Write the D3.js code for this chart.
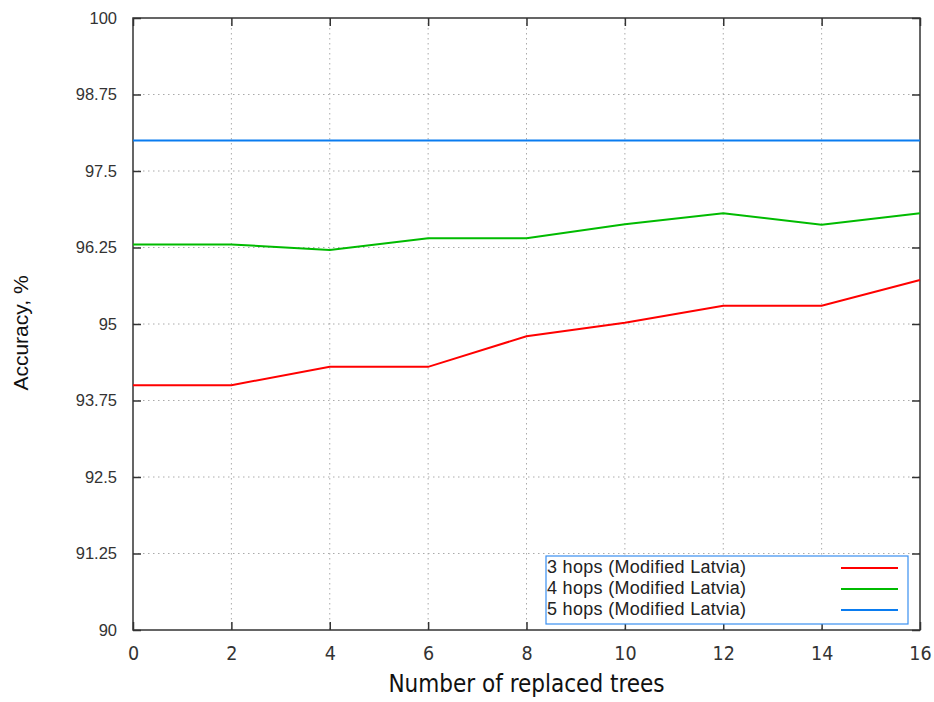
<!DOCTYPE html>
<html>
<head>
<meta charset="utf-8">
<script src="https://cdnjs.cloudflare.com/ajax/libs/d3/7.8.5/d3.min.js"></script>
<style>
  body { margin: 0; background: #fff; }
  svg { display: block; }
  .tick text { fill: #333; }
</style>
</head>
<body>
<div id="chart"></div>
<script>
// data
const replaced = [0, 2, 4, 6, 8, 10, 12, 14, 16];
const hops3 = [94.0, 94.0, 94.3, 94.3, 94.8, 95.02, 95.3, 95.3, 95.72];
const hops4 = [96.3, 96.3, 96.21, 96.4, 96.4, 96.63, 96.81, 96.62, 96.81];
const hops5 = [98.0, 98.0, 98.0, 98.0, 98.0, 98.0, 98.0, 98.0, 98.0];
const seriesNames = ["3 hops (Modified Latvia)", "4 hops (Modified Latvia)", "5 hops (Modified Latvia)"];
const seriesColors = ["#ff0000", "#00bb00", "#0a7cf0"];
const yTicks = [90, 91.25, 92.5, 93.75, 95, 96.25, 97.5, 98.75, 100];
const xTicks = [0, 2, 4, 6, 8, 10, 12, 14, 16];

const W = 934, H = 702;
const m = { left: 133, right: 14, top: 18, bottom: 72 };
const iw = W - m.left - m.right, ih = H - m.top - m.bottom;

const svg = d3.select("#chart").append("svg").attr("width", W).attr("height", H);
const g = svg.append("g").attr("transform", `translate(${m.left},${m.top})`);

const x = d3.scaleLinear().domain([0, 16]).range([0, iw]);
const y = d3.scaleLinear().domain([90, 100]).range([ih, 0]);

// grid
g.append("g").selectAll("line").data(xTicks.slice(1, -1)).join("line")
  .attr("x1", d => x(d)).attr("x2", d => x(d)).attr("y1", 0).attr("y2", ih)
  .attr("stroke", "#aaa").attr("stroke-dasharray", "1.5,3.5");
g.append("g").selectAll("line").data(yTicks.slice(1, -1)).join("line")
  .attr("y1", d => y(d)).attr("y2", d => y(d)).attr("x1", 0).attr("x2", iw)
  .attr("stroke", "#aaa").attr("stroke-dasharray", "1.5,3.5");

// axes, ticks pointing inward like gnuplot
const fmtY = d => String(d);
const axL = g.append("g").call(d3.axisLeft(y).tickValues(yTicks).tickFormat(fmtY).tickSize(-8).tickPadding(16));
const axR = g.append("g").attr("transform", `translate(${iw},0)`)
  .call(d3.axisRight(y).tickValues(yTicks).tickFormat("").tickSize(-8));
const axB = g.append("g").attr("transform", `translate(0,${ih})`)
  .call(d3.axisBottom(x).tickValues(xTicks).tickFormat(d3.format("d")).tickSize(-8).tickPadding(14));
const axT = g.append("g").call(d3.axisTop(x).tickValues(xTicks).tickFormat("").tickSize(-8));
[axL, axR, axB, axT].forEach(a => {
  a.select(".domain").remove();
  a.selectAll(".tick line").attr("stroke", "#333").attr("stroke-width", 1.5);
});
axL.selectAll("text").attr("font-family", "Liberation Sans, Arial, sans-serif").attr("font-size", 16.5);
axB.selectAll("text").attr("font-family", "Liberation Sans Narrow, DejaVu Sans Condensed, sans-serif")
  .attr("font-size", 19.5).attr("dy", "0.8em");

g.append("rect").attr("width", iw).attr("height", ih)
  .attr("fill", "none").attr("stroke", "#333").attr("stroke-width", 1.5);

// lines
const line = d3.line().x((d, i) => x(replaced[i])).y(d => y(d));
[hops3, hops4, hops5].forEach((s, k) => {
  g.append("path").datum(s).attr("d", line)
    .attr("fill", "none").attr("stroke", seriesColors[k]).attr("stroke-width", 2);
});

// legend
const lg = svg.append("g").attr("transform", "translate(546,556)");
lg.append("rect").attr("width", 362).attr("height", 68)
  .attr("fill", "#fff").attr("stroke", "#3a8ff0").attr("stroke-width", 1.2);
seriesNames.forEach((n, k) => {
  const yy = 11 + k * 21;
  lg.append("text").attr("x", 1).attr("y", yy).attr("dy", "0.35em")
    .attr("font-family", "Liberation Sans, Arial, sans-serif").attr("font-size", 18)
    .attr("letter-spacing", 0.3).attr("fill", "#222").text(n);
  lg.append("line").attr("x1", 295).attr("x2", 352).attr("y1", yy + 1).attr("y2", yy + 1)
    .attr("stroke", seriesColors[k]).attr("stroke-width", 2);
});

// titles
svg.append("text").attr("x", m.left + iw / 2).attr("y", 692).attr("text-anchor", "middle")
  .attr("font-family", "Liberation Sans Narrow, DejaVu Sans Condensed, sans-serif").attr("font-size", 24)
  .attr("fill", "#111").text("Number of replaced trees");
svg.append("text").attr("transform", "translate(28,333) rotate(-90)").attr("text-anchor", "middle")
  .attr("font-family", "Liberation Sans, Arial, sans-serif").attr("font-size", 21)
  .attr("fill", "#111").text("Accuracy, %");
</script>
</body>
</html>
